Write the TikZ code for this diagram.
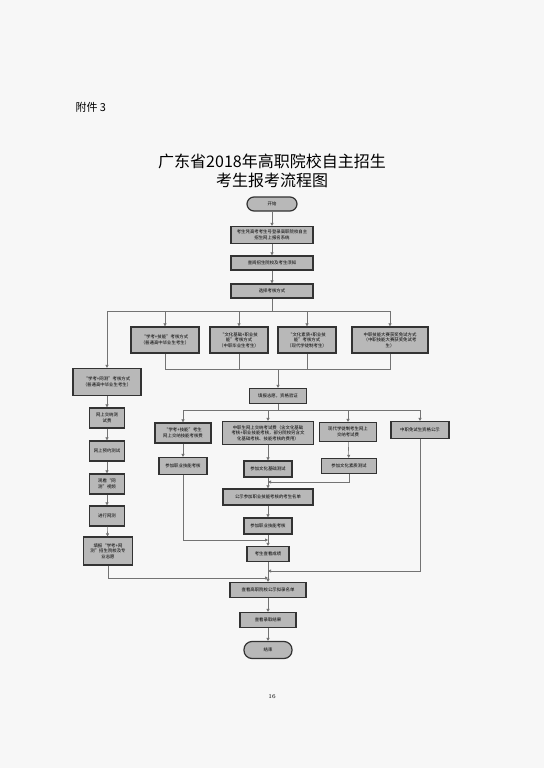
\documentclass[tikz,border=0pt]{standalone}
\usepackage{fontspec}
\newfontfamily\cjk{Noto Sans CJK SC}
\usetikzlibrary{arrows.meta}
\begin{document}
\begin{tikzpicture}[
        x=1pt, y=-1pt,
        font=\cjk\fontsize{4.4}{5.6}\selectfont,
        stepbox/.style={draw=black!80, fill=black!28, line width=1.2pt,
                        align=center, inner sep=1pt},
        term/.style   ={stepbox, rounded corners=7pt},
        line/.style   ={draw=black!55, line width=0.6pt},
        arr/.style    ={line, -{Triangle[length=3pt, width=3pt]}},
    ]
    \useasboundingbox[fill=black!3] (0,0) rectangle (544,768);

    %% Heading
    \node[anchor=west, font=\cjk\fontsize{11}{13}\selectfont] (annex) at (72,107) {附件 3};
    \node[font=\cjk\fontsize{16}{19}\selectfont, align=center] (title) at (272,171)
        {广东省2018年高职院校自主招生\\考生报考流程图};

    %% Main column -- top
    \node[term, minimum width=50, minimum height=14] (start) at (272,204) {开始};
    \node[stepbox, minimum width=82, minimum height=17] (login) at (272,235)
        {考生凭高考考生号登录高职院校自主\\招生网上报名系统};
    \node[stepbox, minimum width=82, minimum height=14] (consult) at (272,263) {查阅招生院校及考生须知};
    \node[stepbox, minimum width=82, minimum height=14] (choose) at (272,291) {选择考核方式};

    %% Ways of assessment
    \node[stepbox, minimum width=68, minimum height=26] (m1) at (165,340)
        {“学考+技能”考核方式\\（普通高中毕业生考生）};
    \node[stepbox, minimum width=58, minimum height=26] (m2) at (239,340)
        {“文化基础+职业技\\能”考核方式\\（中职毕业生考生）};
    \node[stepbox, minimum width=58, minimum height=26] (m3) at (307,340)
        {“文化素质+职业技\\能”考核方式\\（现代学徒制考生）};
    \node[stepbox, minimum width=76, minimum height=26] (m4) at (390,340)
        {中职技能大赛获奖免试方式\\（中职技能大赛获奖免试考\\生）};

    %% Left column -- online test
    \node[stepbox, minimum width=68, minimum height=27] (net) at (107,382)
        {“学考+网测”考核方式\\（普通高中毕业生考生）};
    \node[stepbox, minimum width=35, minimum height=20] (l2) at (107,418) {网上交纳测\\试费};
    \node[stepbox, minimum width=35, minimum height=20] (l3) at (107,451) {网上预约测试};
    \node[stepbox, minimum width=35, minimum height=20] (l4) at (107,484) {观看“网\\测”视频};
    \node[stepbox, minimum width=35, minimum height=20] (l5) at (107,516) {进行网测};
    \node[stepbox, minimum width=49, minimum height=28] (l6) at (108,551)
        {填报“学考+网\\测”招生院校及专\\业志愿};

    %% Apply
    \node[stepbox, minimum width=57, minimum height=15] (apply) at (278,396) {填报志愿，资格验证};

    %% Fees
    \node[stepbox, minimum width=56, minimum height=20] (r1) at (183,433)
        {“学考+技能”考生\\网上交纳技能考核费};
    \node[stepbox, minimum width=91, minimum height=23] (r2) at (268,433)
        {中职生网上交纳考试费（含文化基础\\考核+职业技能考核，部分院校另含文\\化基础考核、技能考核的费用）};
    \node[stepbox, minimum width=57, minimum height=19] (r3) at (348,432)
        {现代学徒制考生网上\\交纳考试费};
    \node[stepbox, minimum width=58, minimum height=17] (r4) at (420,430) {中职免试生资格公示};

    %% Tests
    \node[stepbox, minimum width=48, minimum height=17] (s1) at (183,466) {参加职业技能考核};
    \node[stepbox, minimum width=48, minimum height=16] (s2) at (268,469) {参加文化基础测试};
    \node[stepbox, minimum width=55, minimum height=15] (s3) at (349,466) {参加文化素质测试};

    %% Main column -- bottom
    \node[stepbox, minimum width=90, minimum height=16] (t1) at (268,497) {公示参加职业技能考核的考生名单};
    \node[stepbox, minimum width=48, minimum height=16] (t2) at (268,526) {参加职业技能考核};
    \node[stepbox, minimum width=42, minimum height=15] (t3) at (268,554) {考生查看成绩};
    \node[stepbox, minimum width=76, minimum height=15] (t4) at (268,590) {查看高职院校公示拟录名单};
    \node[stepbox, minimum width=56, minimum height=15] (t5) at (268,620) {查看录取结果};
    \node[term, minimum width=48, minimum height=17, rounded corners=8pt] (finish) at (268,650) {结束};

    \node[font=\fontsize{6}{7}\selectfont] (page) at (272,697) {16};

    %% Junctions
    \coordinate (split)  at (272,311);
    \coordinate (merge)  at (278,369);
    \coordinate (split2) at (278,410);
    \coordinate (j1) at (268,482);
    \coordinate (j2) at (268,540);
    \coordinate (j3) at (268,571);
    \coordinate (j4) at (268,578);

    %% Connectors
    \draw[arr] (start) -- (login);
    \draw[arr] (login) -- (consult);
    \draw[arr] (consult) -- (choose);
    \draw[line] (choose) -- (split);
    \foreach \n in {net, m1, m2, m3, m4}
        \draw[arr] (split) -| (\n.north);
    \foreach \n in {m1, m2, m3, m4}
        \draw[line] (\n.south) |- (merge);
    \draw[arr] (merge) -- (apply);
    \draw[line] (apply) -- (split2);
    \foreach \n in {r1, r2, r3, r4}
        \draw[arr] (split2) -| (\n.north);

    \draw[arr] (net) -- (l2);
    \draw[arr] (l2) -- (l3);
    \draw[arr] (l3) -- (l4);
    \draw[arr] (l4) -- (l5);
    \draw[arr] (l5) -- (l6);

    \draw[arr] (r1) -- (s1);
    \draw[arr] (r2) -- (s2);
    \draw[arr] (r3) -- (s3);
    \draw[arr] (s2) -- (t1);
    \draw[arr] (t1) -- (t2);
    \draw[arr] (t2) -- (t3);
    \draw[arr] (t3) -- (t4);
    \draw[arr] (t4) -- (t5);
    \draw[arr] (t5) -- (finish);

    \draw[arr] (s3.south) |- (j1);
    \draw[arr] (s1.south) |- (j2);
    \draw[arr] (r4.south) |- (j3);
    \draw[arr] (l6.south) |- (j4);

\end{tikzpicture}
\end{document}
